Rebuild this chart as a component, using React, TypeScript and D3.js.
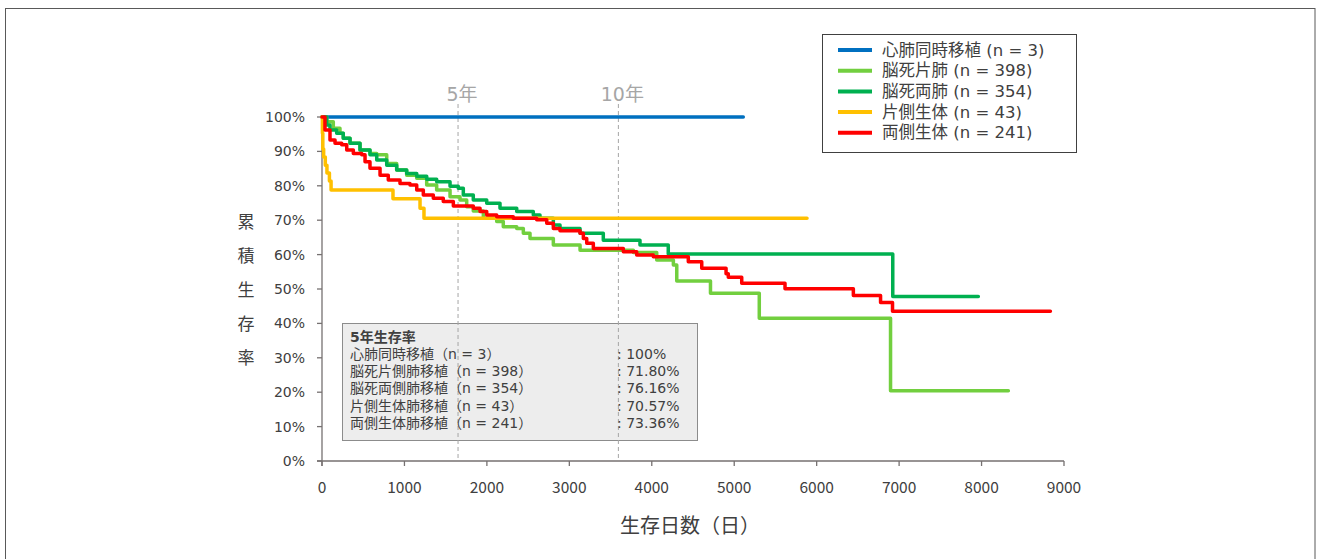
import React from "react";
import * as d3 from "d3";

// ---- data ----
const xTicks = [0, 1000, 2000, 3000, 4000, 5000, 6000, 7000, 8000, 9000];
const yTicks = [0, 10, 20, 30, 40, 50, 60, 70, 80, 90, 100];
const yearMarks = [
  { day: 1650, label: "5年" },
  { day: 3595, label: "10年" },
];

// [day, survival %] step points (survival from that day onward)
const heartLung: [number, number][] = [[0, 100]];
const heartLungEnd = 5110;

const bdSingle: [number, number][] = [
  [0, 100], [57, 98.6], [137, 96.7], [218, 95.3], [258, 93.8], [340, 92.4], [461, 90.4],
  [582, 89.4], [664, 89.0], [785, 86.5], [906, 84.6], [1027, 83.1], [1149, 82.2],
  [1270, 80.2], [1391, 78.8], [1553, 76.8], [1674, 75.9], [1755, 73.9], [1835, 72.7],
  [1957, 70.6], [2119, 69.6], [2199, 68.1], [2362, 67.6], [2442, 66.2], [2523, 64.7],
  [2806, 62.8], [3130, 61.3], [3777, 60.6], [4060, 58.4], [4262, 57.0], [4303, 52.3],
  [4712, 48.8], [5304, 41.5], [6896, 20.4],
];
const bdSingleEnd = 8325;

const bdDouble: [number, number][] = [
  [0, 100], [57, 97.7], [97, 96.2], [178, 95.3], [258, 93.8], [340, 92.4], [461, 90.4],
  [582, 89.0], [664, 87.5], [785, 86.0], [906, 84.6], [1027, 83.6], [1149, 82.8],
  [1270, 81.9], [1391, 81.2], [1553, 79.9], [1653, 79.3], [1714, 77.3], [1835, 75.9],
  [1998, 74.9], [2159, 73.5], [2362, 72.5], [2563, 71.5], [2644, 70.6], [2806, 68.6],
  [2887, 67.6], [3130, 66.2], [3412, 64.2], [3857, 62.8], [4200, 60.2], [6923, 47.8],
];
const bdDoubleEnd = 7961;

const ldSingle: [number, number][] = [
  [0, 100], [5, 95.3], [10, 90.7], [20, 88.4], [40, 86.0], [60, 83.7], [90, 81.4],
  [110, 78.8], [861, 76.2], [1189, 73.5], [1237, 70.57],
];
const ldSingleEnd = 5883;

const ldDouble: [number, number][] = [
  [0, 100], [36, 96.2], [97, 93.3], [158, 92.4], [239, 91.9], [300, 90.4], [380, 89.4],
  [482, 89.0], [522, 87.0], [582, 85.1], [704, 83.1], [804, 81.7], [946, 80.7],
  [1067, 80.2], [1149, 78.8], [1229, 77.3], [1350, 76.4], [1471, 75.4], [1593, 74.1],
  [1835, 73.5], [1917, 72.5], [1998, 71.5], [2119, 71.0], [2320, 70.6], [2604, 70.1],
  [2726, 69.1], [2806, 67.6], [2887, 66.9], [3130, 66.2], [3170, 64.7], [3211, 63.3],
  [3291, 61.8], [3655, 60.8], [3817, 59.9], [4019, 59.4], [4443, 57.9], [4606, 56.0],
  [4901, 54.4], [4928, 53.4], [5091, 51.7], [5616, 50.1], [6445, 48.1], [6775, 46.1],
  [6920, 43.5],
];
const ldDoubleEnd = 8835;

const seriesNames = [
  "心肺同時移植 (n = 3)",
  "脳死片肺 (n = 398)",
  "脳死両肺 (n = 354)",
  "片側生体 (n = 43)",
  "両側生体 (n = 241)",
];
const seriesColors = ["#0070c0", "#72cf3f", "#00b050", "#ffc000", "#ff0000"];
const seriesData = [heartLung, bdSingle, bdDouble, ldSingle, ldDouble];
const seriesEnds = [heartLungEnd, bdSingleEnd, bdDoubleEnd, ldSingleEnd, ldDoubleEnd];

const statsTitle = "5年生存率";
const statsLabels = [
  "心肺同時移植（n = 3）",
  "脳死片側肺移植（n = 398）",
  "脳死両側肺移植（n = 354）",
  "片側生体肺移植（n = 43）",
  "両側生体肺移植（n = 241）",
];
const statsValues = [": 100%", ": 71.80%", ": 76.16%", ": 70.57%", ": 73.36%"];

const font = "'Noto Sans CJK JP', 'Noto Sans', sans-serif";
const wideFont = "'DejaVu Sans', 'Noto Sans CJK JP', sans-serif";

export default function App() {
  const x = d3.scaleLinear().domain([0, 9000]).range([322, 1064]);
  const y = d3.scaleLinear().domain([0, 100]).range([461, 117]);
  const line = d3
    .line<[number, number]>()
    .x((d) => x(d[0]))
    .y((d) => y(d[1]))
    .curve(d3.curveStepAfter);

  const axisColor = "#767171";
  const textColor = "#404040";

  return (
    <svg
      width={1317}
      height={559}
      style={{ position: "absolute", left: 0, top: 0, background: "#fff" }}
      fontFamily={font}
    >
      <rect x={0} y={0} width={1317} height={559} fill="#fff" />
      <rect x={5.5} y={8.5} width={1309.5} height={600} fill="none" stroke="#595959" strokeWidth={1} />

      {/* stats box */}
      <rect x={342.5} y={323.5} width={355} height={117} fill="#ededed" stroke="#8c8c8c" strokeWidth={1} />

      {/* year dashed lines */}
      {yearMarks.map((m) => (
        <g key={m.label}>
          <line
            x1={x(m.day)}
            x2={x(m.day)}
            y1={104}
            y2={y(0)}
            stroke="#a6a6a6"
            strokeWidth={1}
            strokeDasharray="4,3"
          />
          <text x={x(m.day) + 4} y={101} fontSize={19} fill="#a6a6a6" textAnchor="middle" fontFamily={wideFont}>
            {m.label}
          </text>
        </g>
      ))}

      {/* stats text */}
      <text x={350} y={342} fontSize={14} fontWeight="bold" fill={textColor} fontFamily={wideFont}>
        {statsTitle}
      </text>
      {statsLabels.map((s, i) => (
        <g key={s}>
          <text x={350} y={359 + i * 17.2} fontSize={14} fill={textColor} fontFamily={wideFont}>
            {s}
          </text>
          <text x={617} y={359 + i * 17.2} fontSize={14} fill={textColor} fontFamily={wideFont}>
            {statsValues[i]}
          </text>
        </g>
      ))}

      {/* axes */}
      <line x1={x(0)} x2={x(0)} y1={y(100)} y2={y(0) + 5} stroke={axisColor} strokeWidth={1.3} />
      <line x1={x(0) - 5} x2={x(9000)} y1={y(0)} y2={y(0)} stroke={axisColor} strokeWidth={1.3} />
      {yTicks.map((t) => (
        <g key={"y" + t}>
          <line x1={x(0) - 5} x2={x(0)} y1={y(t)} y2={y(t)} stroke={axisColor} strokeWidth={1.3} />
          <text x={305} y={y(t) + 5} fontSize={14} textAnchor="end" fill={textColor} fontFamily={wideFont}>
            {t + "%"}
          </text>
        </g>
      ))}
      {xTicks.map((t) => (
        <g key={"x" + t}>
          <line x1={x(t)} x2={x(t)} y1={y(0)} y2={y(0) + 5} stroke={axisColor} strokeWidth={1.3} />
          <text x={x(t)} y={493} fontSize={15.5} textAnchor="middle" fill={textColor}>
            {t}
          </text>
        </g>
      ))}

      {/* axis titles */}
      {"累積生存率".split("").map((c, i) => (
        <text key={c + i} x={246} y={228 + i * 34} fontSize={17} textAnchor="middle" fill={textColor}>
          {c}
        </text>
      ))}
      <text x={690} y={533} fontSize={20} textAnchor="middle" fill={textColor}>
        生存日数（日）
      </text>

      {/* curves */}
      {seriesData.map((d, i) => {
        const pts: [number, number][] = [...d, [seriesEnds[i], d[d.length - 1][1]]];
        return (
          <path
            key={seriesNames[i]}
            d={line(pts) || ""}
            fill="none"
            stroke={seriesColors[i]}
            strokeWidth={3.5}
            strokeLinejoin="round"
            strokeLinecap="round"
          />
        );
      })}

      {/* legend */}
      <rect x={822.5} y={34.5} width={254} height={118} fill="#fff" stroke="#404040" strokeWidth={1} />
      {seriesNames.map((n, i) => (
        <g key={"lg" + n}>
          <line x1={838} x2={872} y1={50 + i * 20.7} y2={50 + i * 20.7} stroke={seriesColors[i]} strokeWidth={4} />
          <text x={882} y={55.5 + i * 20.7} fontSize={16.5} fill={textColor} fontFamily={wideFont}>
            {n}
          </text>
        </g>
      ))}
    </svg>
  );
}
